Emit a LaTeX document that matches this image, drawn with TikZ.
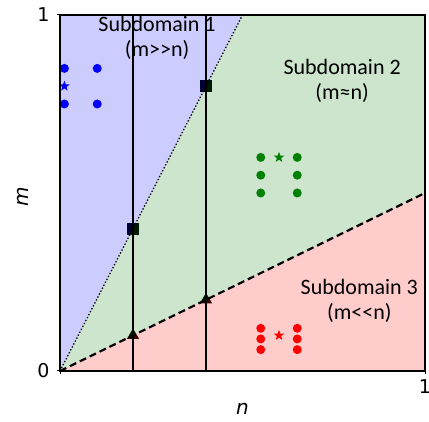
\documentclass[tikz,border=0pt]{standalone}
\usepackage{fontspec}
\setmainfont{Carlito}
\newfontfamily\tickfont{DejaVu Sans}
\usetikzlibrary{shapes.geometric}
\definecolor{mkgreen}{RGB}{0,128,0}
\tikzset{
  dot/.style={circle, fill=#1, inner sep=0pt, minimum size=9pt},
  starmk/.style={star, star points=5, star point ratio=2.4, fill=#1, inner sep=0pt, minimum size=11pt},
  sqmk/.style={rectangle, fill=black, inner sep=0pt, minimum size=12pt},
  trimk/.style={regular polygon, regular polygon sides=3, fill=black, inner sep=0pt, minimum size=14pt},
  regionfill/.style={fill=#1, fill opacity=0.2},
  region/.style={font=\fontsize{22}{25}\selectfont, align=center},
  ticklab/.style={font=\tickfont\fontsize{19}{22}\selectfont},
  axlab/.style={font=\tickfont\itshape\fontsize{20}{24}\selectfont},
  vline/.style={line width=1.8pt},
}
\begin{document}
\begin{tikzpicture}
\useasboundingbox (0pt,-422pt) rectangle (429pt,0pt);
\fill[white] (0pt,-422pt) rectangle (429pt,0pt);
\begin{scope}[shift={(60pt,-371pt)}, x=365pt, y=356pt]
  % coordinates
  \coordinate (o) at (0,0);
  \coordinate (up) at (0.5,1);
  \coordinate (lo) at (1,0.5);
  \coordinate (a0) at (0.2,0);
  \coordinate (a1) at (0.2,1);
  \coordinate (b0) at (0.4,0);
  \coordinate (b1) at (0.4,1);
  % markers on lines (drawn beneath the translucent regions)
  \node[sqmk] (s1) at (0.2,0.4) {};
  \node[sqmk] (s2) at (0.4,0.8) {};
  \node[trimk] (t1) at (0.2,0.1) {};
  \node[trimk] (t2) at (0.4,0.2) {};
  % regions
  \fill[regionfill=blue] (o) -- (up) -- (0,1) -- cycle;
  \fill[regionfill=mkgreen] (o) -- (lo) -- (1,1) -- (up) -- cycle;
  \fill[regionfill=red] (o) -- (1,0) -- (lo) -- cycle;
  % vertical lines
  \draw[vline] (a0) -- (a1);
  \draw[vline] (b0) -- (b1);
  % boundary lines
  \draw[line width=1.3pt, dotted] (o) -- (up);
  \draw[line width=2.2pt, dash pattern=on 7pt off 4pt] (o) -- (lo);
  % blue points
  \node[dot=blue] (p1) at (0.012,0.85) {};
  \node[dot=blue] (p2) at (0.102,0.85) {};
  \node[dot=blue] (p3) at (0.012,0.75) {};
  \node[dot=blue] (p4) at (0.102,0.75) {};
  \node[starmk=blue] (ps) at (0.012,0.80) {};
  % green points
  \node[dot=mkgreen] (g1) at (0.55,0.60) {};
  \node[dot=mkgreen] (g2) at (0.55,0.55) {};
  \node[dot=mkgreen] (g3) at (0.55,0.50) {};
  \node[dot=mkgreen] (g4) at (0.65,0.60) {};
  \node[dot=mkgreen] (g5) at (0.65,0.55) {};
  \node[dot=mkgreen] (g6) at (0.65,0.50) {};
  \node[starmk=mkgreen] (gs) at (0.60,0.60) {};
  % red points
  \node[dot=red] (r1) at (0.55,0.12) {};
  \node[dot=red] (r2) at (0.55,0.09) {};
  \node[dot=red] (r3) at (0.55,0.06) {};
  \node[dot=red] (r4) at (0.65,0.12) {};
  \node[dot=red] (r5) at (0.65,0.09) {};
  \node[dot=red] (r6) at (0.65,0.06) {};
  \node[starmk=red] (rs) at (0.60,0.10) {};
  % frame and ticks
  \draw[line width=1.2pt] (0,0) rectangle (1,1);
  \draw[line width=1pt] (0,0) -- ++(-3.5pt,0) (0,1) -- ++(-3.5pt,0)
                        (0,0) -- ++(0,-3.5pt) (1,0) -- ++(0,-3.5pt);
  % labels
  \node[region] (l1) at (0.266,0.935) {Subdomain 1\\(m{>}{>}n)};
  \node[region] (l2) at (0.773,0.816) {Subdomain 2\\(m≈n)};
  \node[region] (l3) at (0.82,0.196) {Subdomain 3\\(m{<}{<}n)};
  \node[ticklab, anchor=east] (y1) at (-7pt,1) {1};
  \node[ticklab, anchor=east] (y0) at (-7pt,0) {0};
  \node[ticklab, anchor=north] (x1) at (1,-5pt) {1};
  \node[axlab, rotate=90] (ym) at (-37pt,0.49) {m};
  \node[axlab] (xn) at (0.5,-38pt) {n};
\end{scope}
\end{tikzpicture}
\end{document}
